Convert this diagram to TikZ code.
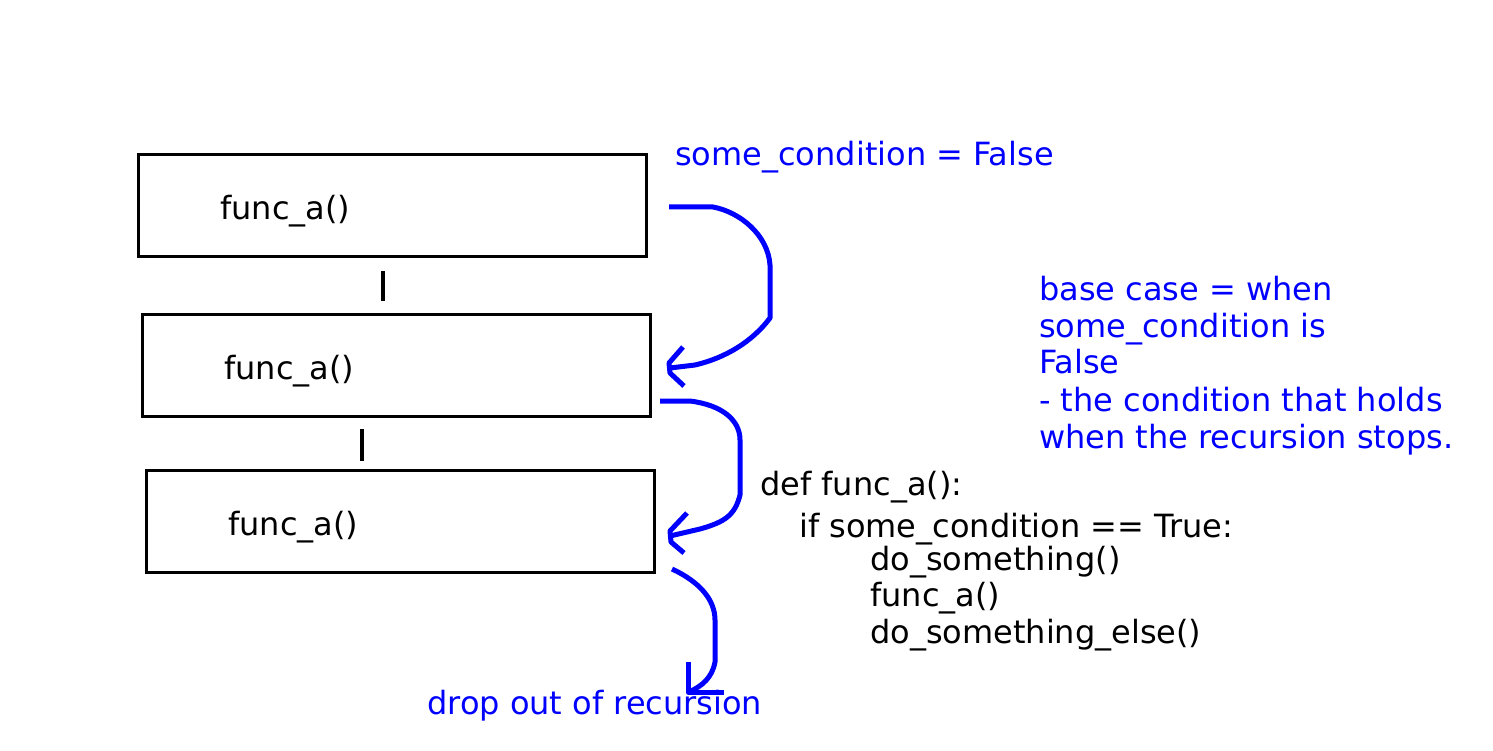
\documentclass[tikz,border=0pt]{standalone}
\usepackage{fontspec}
\setmainfont{DejaVu Sans}
\begin{document}
\begin{tikzpicture}[x=1pt,y=-1pt,
  box/.style={draw, line width=3pt, minimum width=508pt, minimum height=102pt, inner sep=0pt},
  txt/.style={anchor=base west, inner sep=0pt, font=\fontsize{32}{37}\selectfont},
  btxt/.style={txt, text=blue},
  blu/.style={blue, line width=5pt, line join=round},
  tick/.style={black, line width=3.5pt}]
\useasboundingbox (0,0) rectangle (1493,751);
% boxes
\node[box] (b1) at (392,206) {};
\node[box] (b2) at (396,365) {};
\node[box] (b3) at (400,521) {};
\node[txt] (t1) at (220,220) {func\_a()};
\node[txt] (t2) at (224,379) {func\_a()};
\node[txt] (t3) at (228,535) {func\_a()};
% ticks between boxes
\coordinate (k1a) at (383,271); \coordinate (k1b) at (383,301);
\coordinate (k2a) at (362,429); \coordinate (k2b) at (362,461);
\draw[tick] (k1a) -- (k1b);
\draw[tick] (k2a) -- (k2b);
% blue labels
\node[btxt] (cond) at (675,166) {some\_condition = False};
\node[btxt] (bc1) at (1039,300) {base case = when};
\node[btxt] (bc2) at (1039,337) {some\_condition is};
\node[btxt] (bc3) at (1039,373) {False};
\node[btxt] (bc4) at (1039,411) {- the condition that holds};
\node[btxt] (bc5) at (1039,448) {when the recursion stops.};
\node[btxt] (drop) at (427,714) {drop out of recursion};
% code
\node[txt] (c1) at (760,495) {def func\_a():};
\node[txt] (c2) at (799,537) {if some\_condition == True:};
\node[txt] (c3) at (870,570) {do\_something()};
\node[txt] (c4) at (870,606) {func\_a()};
\node[txt] (c5) at (870,643) {do\_something\_else()};
% arrow 1
\coordinate (a1s) at (669,207);
\coordinate (a1e) at (670,368);
\draw[blu] (a1s) -- (713,207) .. controls (740,212) and (768,235) .. (770,265) -- (770,318)
  .. controls (752,342) and (725,358) .. (695,365) -- (a1e);
\draw[blu] (683,347) -- (669,363) -- (670,373) -- (684,386);
% arrow 2
\coordinate (a2s) at (660,401);
\coordinate (a2e) at (670,536);
\draw[blu] (a2s) -- (690,401) .. controls (722,405) and (740,420) .. (740,440) -- (740,495)
  .. controls (735,515) and (725,522) .. (700,529) -- (a2e);
\draw[blu] (687,513) -- (670,531) -- (671,542) -- (684,553);
% arrow 3
\coordinate (a3s) at (672,569);
\coordinate (a3e) at (689,692);
\draw[blu] (a3s) .. controls (700,582) and (715,600) .. (715,620) -- (715,662)
  .. controls (712,678) and (702,686) .. (a3e);
\draw[blu] (688,662) -- (688,692) -- (724,692);
\end{tikzpicture}
\end{document}
